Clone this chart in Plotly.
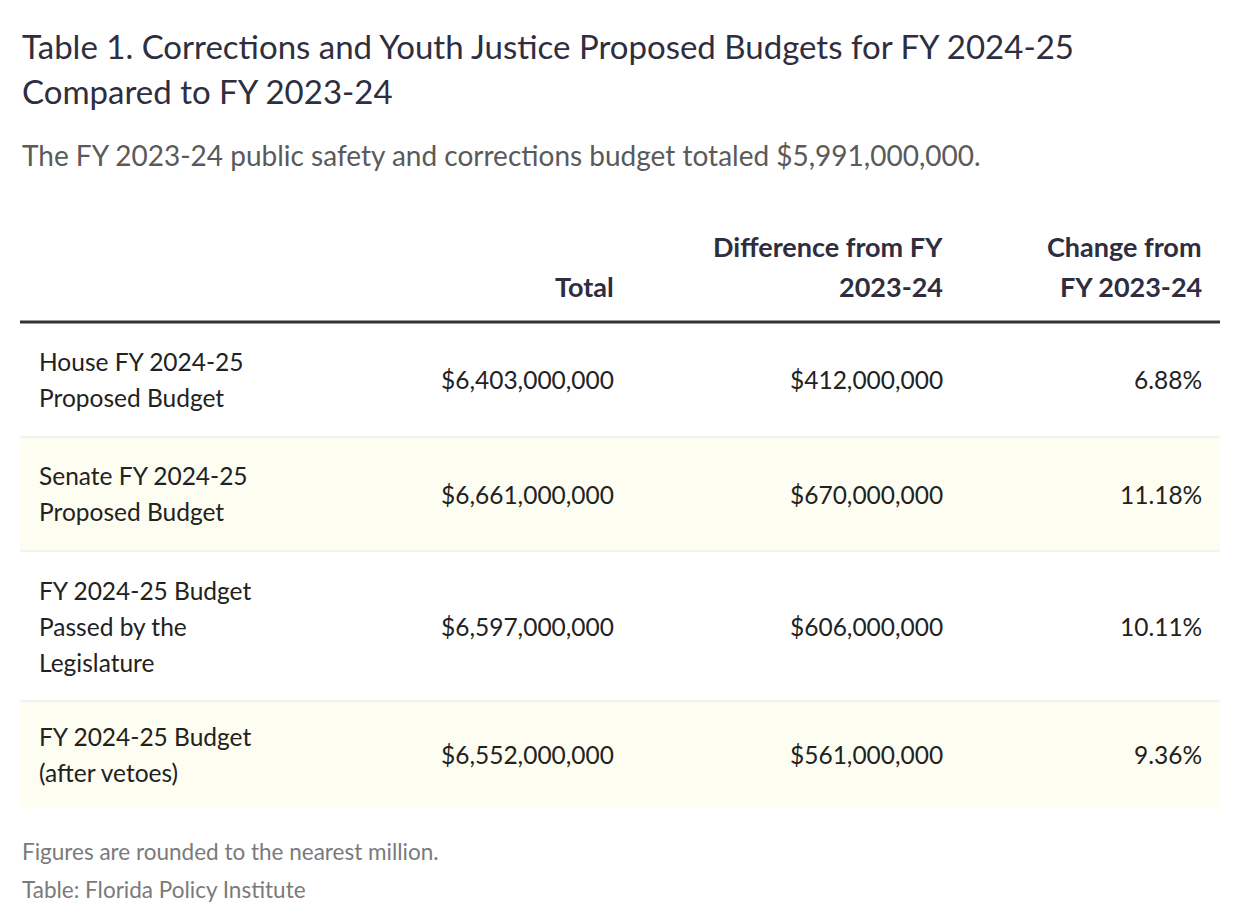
import plotly.graph_objects as go

W, H = 1240, 924
title_lines = ["Table 1. Corrections and Youth Justice Proposed Budgets for FY 2024-25", "Compared to FY 2023-24"]
subtitle = "The FY 2023-24 public safety and corrections budget totaled $5,991,000,000."
headers = ["", "Total", "Difference from FY<br>2023-24", "Change from<br>FY 2023-24"]
row_labels = ["House FY 2024-25<br>Proposed Budget", "Senate FY 2024-25<br>Proposed Budget",
              "FY 2024-25 Budget<br>Passed by the<br>Legislature", "FY 2024-25 Budget<br>(after vetoes)"]
totals = ["$6,403,000,000", "$6,661,000,000", "$6,597,000,000", "$6,552,000,000"]
diffs = ["$412,000,000", "$670,000,000", "$606,000,000", "$561,000,000"]
changes = ["6.88%", "11.18%", "10.11%", "9.36%"]
notes = ["Figures are rounded to the nearest million.", "Table: Florida Policy Institute"]

FONT = "Source Sans Pro, Lato, sans-serif"
DARK = "#2e2e40"
OFF = 8
row_bounds = [(322, 437), (437, 551), (551, 701), (701, 808)]
col_right = [None, 616, 945, 1204]

def py(p):
    return 1 - (p - OFF) / H

def px(p):
    return (p - OFF) / W

fig = go.Figure()
shapes, ann = [], []

for i, (t, b) in enumerate(row_bounds):
    fill = "#fdfdf1" if i % 2 == 1 else "white"
    shapes.append(dict(type="rect", xref="paper", yref="paper", x0=px(20), x1=px(1220),
                       y0=py(b), y1=py(t), fillcolor=fill, line_width=0, layer="below"))
    if i < len(row_bounds) - 1:
        shapes.append(dict(type="line", xref="paper", yref="paper", x0=px(20), x1=px(1220),
                           y0=py(b), y1=py(b), line=dict(color="#e6e6e6", width=1)))
shapes.append(dict(type="line", xref="paper", yref="paper", x0=px(20), x1=px(1220),
                   y0=py(322), y1=py(322), line=dict(color="#333333", width=3)))

def text(x, y, s, size, color, xanchor="left", bold=False):
    if bold:
        s = "<b>" + s + "</b>"
    ann.append(dict(xref="paper", yref="paper", x=px(x), y=py(y), text=s, showarrow=False,
                    xanchor=xanchor, yanchor="middle", align=xanchor,
                    font=dict(family=FONT, size=size, color=color)))

def multiline(x, ymid, s, size, color, lh, xanchor="left", bold=False):
    lines = s.split("<br>")
    y0 = ymid - lh * (len(lines) - 1) / 2
    for k, ln in enumerate(lines):
        text(x, y0 + k * lh, ln, size, color, xanchor, bold)

text(20, 46, title_lines[0], 33, DARK)
text(20, 91, title_lines[1], 33, DARK)
text(20, 155, subtitle, 28, "#5a5a5a")

for j in (1, 2, 3):
    lines = headers[j].split("<br>")
    for k, ln in enumerate(reversed(lines)):
        text(col_right[j], 286 - 39 * k, ln, 27, DARK, xanchor="right", bold=True)

for i, (t, b) in enumerate(row_bounds):
    mid = (t + b) / 2
    multiline(37, mid, row_labels[i], 24.5, "#222222", 36)
    text(col_right[1], mid, totals[i], 24.5, "#222222", xanchor="right")
    text(col_right[2], mid, diffs[i], 24.5, "#222222", xanchor="right")
    text(col_right[3], mid, changes[i], 24.5, "#222222", xanchor="right")

text(20, 851, notes[0], 22.5, "#7a7a7a")
text(20, 889, notes[1], 22.5, "#7a7a7a")

fig.update_layout(width=W, height=H, margin=dict(l=0, r=0, t=0, b=0),
                  paper_bgcolor="white", plot_bgcolor="white",
                  xaxis=dict(visible=False), yaxis=dict(visible=False),
                  shapes=shapes, annotations=ann)
fig.write_html("out.html")
